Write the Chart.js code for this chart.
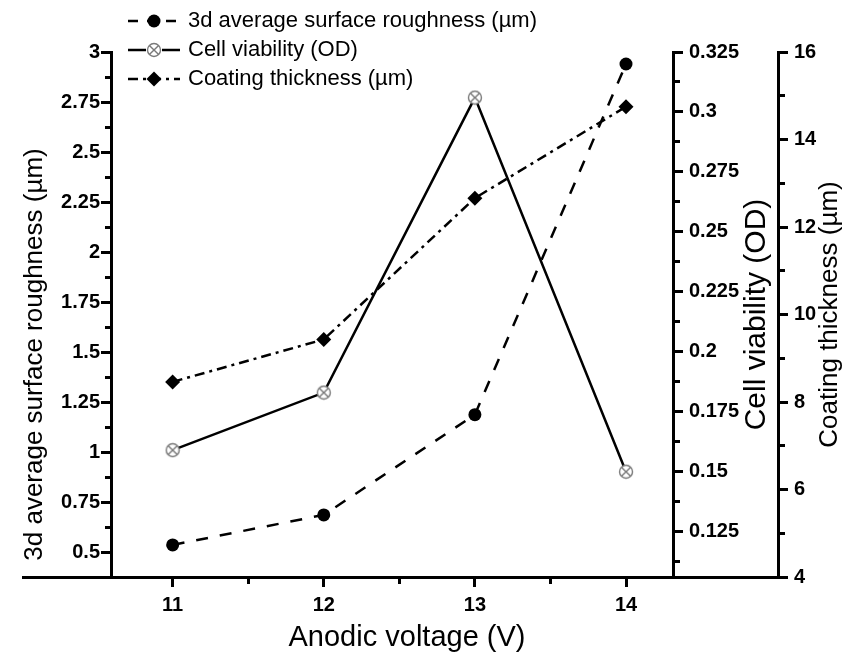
<!DOCTYPE html>
<html>
<head>
<meta charset="utf-8">
<script src="https://cdn.jsdelivr.net/npm/chart.js@4.4.0/dist/chart.umd.min.js"></script>
<style>
html, body { margin: 0; padding: 0; background: #fff; }
</style>
</head>
<body>
<canvas id="myChart" width="856" height="657"></canvas>
<script>
const voltages = [11, 12, 13, 14];
const roughness = [0.54, 0.69, 1.19, 2.94];
const cellViability = [0.159, 0.183, 0.306, 0.150];
const coatingThickness = [8.46, 9.43, 12.66, 14.75];

const seriesNames = ['3d average surface roughness (µm)', 'Cell viability (OD)', 'Coating thickness (µm)'];
const xTitle = 'Anodic voltage (V)';

const fontName = '"Liberation Sans", Arial, sans-serif';
Chart.defaults.font.family = fontName;
Chart.defaults.color = '#000';

const roughDash = [12, 12];
const coatDash = [10, 5, 3, 5];

const isMajor = (v, step) => Math.abs(v / step - Math.round(v / step)) < 1e-6;
const fmt = v => String(+v.toFixed(4));

// marker for cell viability: grey circle with an x
const cellMarker = document.createElement('canvas');
cellMarker.width = 16; cellMarker.height = 16;
(() => {
  const c = cellMarker.getContext('2d');
  c.strokeStyle = '#7a7a7a';
  c.lineWidth = 1.4;
  c.fillStyle = '#fff';
  c.beginPath(); c.arc(8, 8, 6.5, 0, Math.PI * 2); c.fill(); c.stroke();
  const d = 6.5 * Math.SQRT1_2;
  c.beginPath();
  c.moveTo(8 - d, 8 - d); c.lineTo(8 + d, 8 + d);
  c.moveTo(8 + d, 8 - d); c.lineTo(8 - d, 8 + d);
  c.stroke();
})();

// legend samples: line + marker in the middle
const makeSample = (dash, marker) => {
  const cv = document.createElement('canvas');
  cv.width = 58; cv.height = 18;
  const c = cv.getContext('2d');
  c.strokeStyle = '#000';
  c.lineWidth = 2.5;
  c.setLineDash(dash);
  c.beginPath(); c.moveTo(3, 9); c.lineTo(55, 9); c.stroke();
  c.setLineDash([]);
  c.fillStyle = '#000';
  if (marker === 'circle') {
    c.beginPath(); c.arc(29, 9, 6.5, 0, Math.PI * 2); c.fill();
  } else if (marker === 'diamond') {
    c.beginPath(); c.moveTo(29, 1.5); c.lineTo(36.5, 9); c.lineTo(29, 16.5); c.lineTo(21.5, 9); c.closePath(); c.fill();
  } else {
    c.clearRect(21, 1, 16, 16);
    c.drawImage(cellMarker, 21, 1);
  }
  return cv;
};
const legendIcons = [makeSample([10, 9], 'circle'), makeSample([], 'cell'), makeSample(coatDash, 'diamond')];

const axisGrid = (major, fromAxis) => ({
  drawOnChartArea: false,
  drawTicks: true,
  tickLength: 10,
  tickWidth: 3,
  tickColor: '#000',
  tickBorderDash: ctx => (ctx.tick && !isMajor(ctx.tick.value, major)) ? (fromAxis ? [5, 100] : [0, 4, 5, 100]) : []
});

const tickFont = { size: 20, weight: 'bold' };

const toPoints = arr => voltages.map((v, i) => ({ x: v, y: arr[i] }));

const extras = {
  id: 'extras',
  afterLayout(chart) {
    chart.legend.left = 124;
    chart.legend.top = 3;
  },
  afterDraw(chart) {
    const { ctx, chartArea, scales } = chart;
    ctx.save();
    // x axis line runs past the plot on both sides
    ctx.strokeStyle = '#000';
    ctx.lineWidth = 3;
    const yb = Math.round(chartArea.bottom) + 0.5;
    ctx.beginPath(); ctx.moveTo(22, yb); ctx.lineTo(scales.y2.left + 8, yb); ctx.stroke();

    ctx.fillStyle = '#000';
    ctx.textAlign = 'center';
    ctx.textBaseline = 'middle';
    const vTitle = (text, x, y, size) => {
      ctx.save();
      ctx.translate(x, y);
      ctx.rotate(-Math.PI / 2);
      ctx.font = size + 'px ' + fontName;
      ctx.fillText(text, 0, 0);
      ctx.restore();
    };
    const midY = (chartArea.top + chartArea.bottom) / 2;
    vTitle(seriesNames[0], scales.y.left + 35, midY + 40, 26);
    vTitle(seriesNames[1], scales.y1.left + 84, midY, 30);
    vTitle(seriesNames[2], scales.y2.left + 52, midY, 26);
    ctx.font = '29px ' + fontName;
    ctx.fillText(xTitle, (chartArea.left + chartArea.right) / 2 + 15, scales.x.top + 61);
    ctx.restore();
  }
};

new Chart(document.getElementById('myChart'), {
  type: 'line',
  data: {
    datasets: [
      {
        label: seriesNames[0],
        data: toPoints(roughness),
        yAxisID: 'y',
        borderColor: '#000', borderWidth: 2.5, borderDash: roughDash,
        pointStyle: 'circle', pointRadius: 6.5, pointBackgroundColor: '#000', pointBorderColor: '#000', pointBorderWidth: 0
      },
      {
        label: seriesNames[1],
        data: toPoints(cellViability),
        yAxisID: 'y1',
        borderColor: '#000', borderWidth: 2.5,
        pointStyle: cellMarker, pointRadius: 7
      },
      {
        label: seriesNames[2],
        data: toPoints(coatingThickness),
        yAxisID: 'y2',
        borderColor: '#000', borderWidth: 2.5, borderDash: coatDash,
        pointStyle: 'rectRot', pointRadius: 7.5, pointBackgroundColor: '#000', pointBorderColor: '#000', pointBorderWidth: 0
      }
    ]
  },
  options: {
    responsive: false,
    animation: false,
    layout: { padding: { top: 52, left: 0, right: 0, bottom: 0 } },
    plugins: {
      tooltip: { enabled: false },
      legend: {
        position: 'chartArea',
        align: 'start',
        labels: {
          usePointStyle: true,
          pointStyleWidth: 46,
          padding: 7,
          color: '#000',
          font: { size: 22 },
          generateLabels: chart => Chart.defaults.plugins.legend.labels.generateLabels(chart)
            .map((l, i) => Object.assign(l, { pointStyle: legendIcons[i] }))
        }
      }
    },
    scales: {
      x: {
        type: 'linear', position: 'bottom', min: 10.592, max: 14.311,
        afterFit: s => { s.height = 80; },
        border: { display: true, color: '#000', width: 3 },
        grid: axisGrid(1, true),
        ticks: { stepSize: 0.5, includeBounds: false, autoSkip: false, maxRotation: 0, padding: 6, font: tickFont,
          callback: v => isMajor(v, 1) ? fmt(v) : '' }
      },
      y: {
        type: 'linear', position: 'left', min: 0.38, max: 3,
        afterFit: s => { s.width = 111; },
        border: { display: true, color: '#000', width: 3 },
        grid: axisGrid(0.25, false),
        ticks: { stepSize: 0.125, includeBounds: false, autoSkip: false, padding: 1, font: tickFont,
          callback: v => isMajor(v, 0.25) ? fmt(v) : '' }
      },
      y1: {
        type: 'linear', position: 'right', min: 0.1061, max: 0.325,
        afterFit: s => { s.width = 105; },
        border: { display: true, color: '#000', width: 3 },
        grid: axisGrid(0.025, true),
        ticks: { stepSize: 0.0125, includeBounds: false, autoSkip: false, padding: 6, font: tickFont,
          callback: v => isMajor(v, 0.025) ? fmt(v) : '' }
      },
      y2: {
        type: 'linear', position: 'right', min: 4, max: 16,
        afterFit: s => { s.width = 78; },
        border: { display: true, color: '#000', width: 3 },
        grid: axisGrid(2, true),
        ticks: { stepSize: 1, includeBounds: false, autoSkip: false, padding: 6, font: tickFont,
          callback: v => isMajor(v, 2) ? fmt(v) : '' }
      }
    }
  },
  plugins: [extras]
});
</script>
</body>
</html>
